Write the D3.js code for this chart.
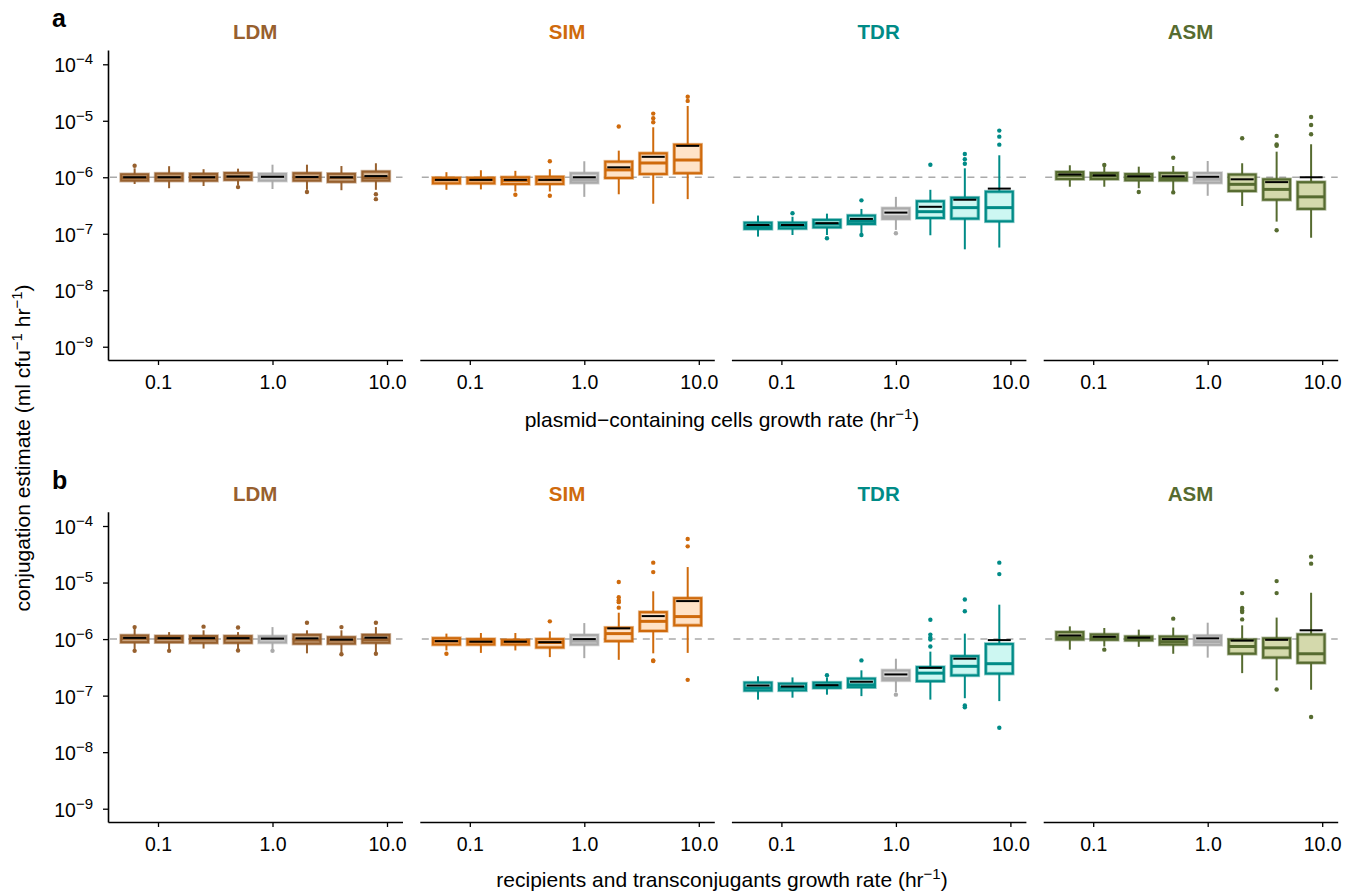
<!DOCTYPE html>
<html lang="en">

<head>
    <meta charset="UTF-8">
    <title>Conjugation estimates by growth rate</title>
    <style>
        body { margin: 0; background: #fff; }
        svg text { font-family: "Liberation Sans", Arial, Helvetica, sans-serif; }
    </style>
</head>

<body>
    <script src="https://cdn.jsdelivr.net/npm/d3@7"></script>
    <script>
        // models (panels) and growth rates (hr^-1) of the boxes
        const models = ['LDM', 'SIM', 'TDR', 'ASM'];
        const rates = [0.0625, 0.125, 0.25, 0.5, 1, 2, 4, 8];
        const xTicks = [0.1, 1, 10];
        const xTickLabels = ['0.1', '1.0', '10.0'];
        const yTickExp = [-4, -5, -6, -7, -8, -9];
        const refValue = 1e-6;

        // all values below are in units of 1e-6 ml cfu^-1 hr^-1
        // row a : plasmid-containing cells growth rate
        const aLow = [
            [0.76, 0.64, 0.70, 0.72, 0.62, 0.60, 0.59, 0.60],
            [0.60, 0.61, 0.56, 0.56, 0.45, 0.50, 0.34, 0.41],
            [0.089, 0.095, 0.095, 0.102, 0.117, 0.094, 0.053, 0.057],
            [0.68, 0.68, 0.64, 0.57, 0.47, 0.31, 0.164, 0.085]
        ];
        const aQ1 = [
            [0.87, 0.87, 0.87, 0.90, 0.87, 0.87, 0.83, 0.87],
            [0.78, 0.78, 0.76, 0.76, 0.80, 0.97, 1.14, 1.18],
            [0.122, 0.124, 0.13, 0.149, 0.183, 0.19, 0.185, 0.166],
            [0.93, 0.93, 0.885, 0.88, 0.80, 0.57, 0.40, 0.275]
        ];
        const aMed = [
            [0.98, 1.0, 1.0, 1.02, 1.02, 1.0, 0.98, 0.98],
            [0.90, 0.90, 0.88, 0.90, 0.90, 1.35, 1.79, 2.02],
            [0.134, 0.138, 0.149, 0.166, 0.20, 0.246, 0.29, 0.29],
            [1.08, 1.06, 1.0, 0.95, 0.92, 0.75, 0.61, 0.45]
        ];
        const aQ3 = [
            [1.13, 1.16, 1.15, 1.19, 1.15, 1.18, 1.15, 1.26],
            [0.98, 0.98, 1.0, 1.02, 1.18, 1.89, 2.66, 3.78],
            [0.157, 0.157, 0.176, 0.21, 0.283, 0.377, 0.435, 0.556],
            [1.24, 1.19, 1.14, 1.19, 1.19, 1.12, 0.92, 0.82]
        ];
        const aHigh = [
            [1.44, 1.57, 1.39, 1.42, 1.67, 1.67, 1.58, 1.77],
            [1.23, 1.33, 1.30, 1.39, 1.92, 2.96, 7.67, 18.3],
            [0.21, 0.20, 0.227, 0.275, 0.45, 0.60, 1.44, 2.45],
            [1.63, 1.60, 1.54, 1.58, 1.94, 1.77, 2.84, 3.84]
        ];
        const aMean = [
            [1.0, 1.0, 1.0, 1.03, 1.02, 1.01, 1.0, 1.05],
            [0.90, 0.90, 0.90, 0.90, 1.0, 1.5, 2.3, 3.6],
            [0.143, 0.143, 0.154, 0.183, 0.237, 0.30, 0.40, 0.63],
            [1.12, 1.08, 1.04, 1.04, 1.02, 0.92, 0.82, 1.0]
        ];
        const aOut = [
            [[1.6], [], [], [0.67], [], [0.55], [], [0.5, 0.41]],
            [[], [], [0.49], [1.92, 0.47], [], [7.9], [9.4, 11.1, 13.4], [22.5, 26.7]],
            [[], [0.23], [0.083], [0.39, 0.095], [0.102], [1.67], [1.74, 2.08, 2.58], [3.78, 5.24, 6.7]],
            [[], [1.65], [0.55], [2.22, 0.54], [], [4.9], [3.6, 3.8, 5.4, 0.115], [5.77, 8.4, 11.7]]
        ];

        // row b : recipients and transconjugants growth rate
        const bLow = [
            [0.63, 0.63, 0.68, 0.65, 0.62, 0.56, 0.54, 0.55],
            [0.63, 0.57, 0.63, 0.48, 0.46, 0.43, 0.56, 0.57],
            [0.085, 0.092, 0.104, 0.098, 0.115, 0.085, 0.09, 0.08],
            [0.65, 0.74, 0.73, 0.55, 0.47, 0.25, 0.186, 0.127]
        ];
        const bQ1 = [
            [0.88, 0.88, 0.86, 0.86, 0.87, 0.83, 0.83, 0.86],
            [0.80, 0.80, 0.80, 0.71, 0.80, 0.92, 1.39, 1.75],
            [0.123, 0.124, 0.137, 0.141, 0.186, 0.18, 0.228, 0.245],
            [0.98, 0.97, 0.95, 0.80, 0.79, 0.55, 0.47, 0.38]
        ];
        const bMed = [
            [1.03, 1.02, 1.0, 1.01, 1.01, 0.96, 0.96, 0.98],
            [0.92, 0.90, 0.90, 0.87, 0.92, 1.25, 2.06, 2.5],
            [0.136, 0.14, 0.15, 0.155, 0.20, 0.25, 0.33, 0.367],
            [1.06, 1.06, 1.02, 0.90, 0.90, 0.74, 0.70, 0.55]
        ];
        const bQ3 = [
            [1.16, 1.13, 1.13, 1.13, 1.12, 1.19, 1.08, 1.19],
            [1.04, 1.0, 0.97, 1.0, 1.18, 1.59, 3.0, 5.3],
            [0.17, 0.163, 0.17, 0.20, 0.28, 0.32, 0.50, 0.82],
            [1.33, 1.21, 1.11, 1.11, 1.15, 0.98, 1.03, 1.21]
        ];
        const bHigh = [
            [1.63, 1.33, 1.43, 1.33, 1.63, 1.43, 1.43, 1.63],
            [1.25, 1.28, 1.28, 1.37, 1.92, 2.93, 7.0, 18.8],
            [0.22, 0.21, 0.21, 0.28, 0.45, 0.60, 1.25, 4.06],
            [1.68, 1.57, 1.47, 1.60, 1.95, 1.75, 2.4, 6.6]
        ];
        const bMean = [
            [1.05, 1.04, 1.04, 1.04, 1.02, 1.03, 0.98, 1.06],
            [0.92, 0.90, 0.90, 0.88, 1.0, 1.55, 2.55, 4.7],
            [0.151, 0.145, 0.153, 0.176, 0.237, 0.31, 0.45, 0.96],
            [1.16, 1.10, 1.06, 1.0, 1.03, 0.94, 0.97, 1.43]
        ];
        const bOut = [
            [[1.63, 0.62], [0.62], [1.66], [1.6, 0.63], [0.62], [1.94], [1.63, 0.54], [1.94, 0.55]],
            [[0.55], [], [], [2.06], [], [3.6, 4.5, 4.8, 5.5, 10.2], [15.3, 22.5, 0.42, 0.41], [43.7, 58.8, 0.19]],
            [[], [], [0.23], [0.42], [0.104], [0.74, 0.98, 1.07, 1.2, 2.2], [3.1, 5.0, 0.067, 0.062], [14.1, 22.5, 0.027]],
            [[], [0.65], [], [2.3], [], [2.23, 3.0, 3.2, 3.54, 6.5], [6.5, 10.6, 0.128], [21.6, 28.7, 0.042]]
        ];

        const unit = 1e-6;

        const strokeCol = { LDM: '#97602e', SIM: '#cf6a0c', TDR: '#008b87', ASM: '#566b30' };
        const fillCol = { LDM: '#dcbd9b', SIM: '#ffe3c8', TDR: '#cdf7f2', ASM: '#d4d9ac' };
        const greyStroke = '#aaaaaa';
        const greyFill = '#dddddd';

        const svg_w = 1354;
        const svg_h = 894;
        const panel_w = 294.5;
        const panel_lefts = [108, 419.8, 731.4, 1043.2];
        const box_w = 27;

        const rows = [
            {
                tag: 'a', top: 50, bottom: 360, labelY: 27,
                title: 'plasmid\u2212containing cells growth rate (hr', titleY: 427,
                low: aLow, q1: aQ1, med: aMed, q3: aQ3, high: aHigh, mean: aMean, out: aOut
            },
            {
                tag: 'b', top: 511.7, bottom: 822, labelY: 489,
                title: 'recipients and transconjugants growth rate (hr', titleY: 887,
                low: bLow, q1: bQ1, med: bMed, q3: bQ3, high: bHigh, mean: bMean, out: bOut
            }
        ];

        const svg = d3.select('body')
            .append('svg')
            .attr('width', svg_w)
            .attr('height', svg_h);

        const x = d3.scaleLog()
            .domain([Math.pow(10, -1.4367), Math.pow(10, 1.1354)])
            .range([0, panel_w]);

        rows.forEach(row => {
            const y = d3.scaleLog()
                .domain([Math.pow(10, -9.235), Math.pow(10, -3.747)])
                .range([row.bottom, row.top]);

            // panel tag
            svg.append('text')
                .attr('x', 52)
                .attr('y', row.labelY)
                .attr('font-size', 25)
                .attr('font-weight', 'bold')
                .text(row.tag);

            // y axis, only on the first panel
            const yAxis = svg.append('g')
                .attr('transform', `translate(${panel_lefts[0]},0)`)
                .call(d3.axisLeft(y)
                    .tickValues(yTickExp.map(e => Math.pow(10, e)))
                    .tickSize(5)
                    .tickSizeOuter(0)
                    .tickFormat(''));
            yAxis.select('.domain').attr('stroke-width', 1.6);
            yAxis.selectAll('.tick line').attr('stroke-width', 1.3);
            yAxis.selectAll('.tick').append('text')
                .attr('x', -15)
                .attr('dy', '0.38em')
                .attr('text-anchor', 'end')
                .attr('fill', '#000')
                .attr('font-size', 19.5)
                .each(function (d) {
                    const t = d3.select(this);
                    t.append('tspan').text('10');
                    t.append('tspan')
                        .attr('dy', -8)
                        .attr('font-size', 15)
                        .text('\u2212' + Math.abs(Math.round(Math.log10(d))));
                });

            models.forEach((m, mi) => {
                const g = svg.append('g')
                    .attr('transform', `translate(${panel_lefts[mi]},0)`);

                // model title
                g.append('text')
                    .attr('x', panel_w / 2)
                    .attr('y', row.top - 11)
                    .attr('text-anchor', 'middle')
                    .attr('font-size', 20.5)
                    .attr('font-weight', 'bold')
                    .attr('fill', strokeCol[m])
                    .text(m);

                // x axis
                const xAxis = g.append('g')
                    .attr('transform', `translate(0,${row.bottom})`)
                    .call(d3.axisBottom(x)
                        .tickValues(xTicks)
                        .tickSize(5)
                        .tickSizeOuter(0)
                        .tickFormat((d, i) => xTickLabels[i]));
                xAxis.select('.domain').attr('stroke-width', 1.6);
                xAxis.selectAll('.tick line').attr('stroke-width', 1.3);
                xAxis.selectAll('.tick text')
                    .attr('font-size', 19.5)
                    .attr('y', 15)
                    .attr('fill', '#000');

                // reference line
                g.append('line')
                    .attr('x1', 2)
                    .attr('x2', panel_w)
                    .attr('y1', y(refValue))
                    .attr('y2', y(refValue))
                    .attr('stroke', '#aaaaaa')
                    .attr('stroke-width', 1.5)
                    .attr('stroke-dasharray', '7,6');

                const boxes = rates.map((r, i) => ({
                    rate: r,
                    grey: r === 1,
                    low: row.low[mi][i] * unit,
                    q1: row.q1[mi][i] * unit,
                    med: row.med[mi][i] * unit,
                    q3: row.q3[mi][i] * unit,
                    high: row.high[mi][i] * unit,
                    mean: row.mean[mi][i] * unit,
                    out: row.out[mi][i].map(v => v * unit)
                }));

                const bg = g.selectAll('g.box')
                    .data(boxes)
                    .join('g')
                    .attr('class', 'box')
                    .attr('transform', d => `translate(${x(d.rate)},0)`);

                const sc = d => d.grey ? greyStroke : strokeCol[m];

                // whiskers
                bg.append('line')
                    .attr('y1', d => y(d.q3))
                    .attr('y2', d => y(d.high))
                    .attr('stroke', sc)
                    .attr('stroke-width', 2);
                bg.append('line')
                    .attr('y1', d => y(d.q1))
                    .attr('y2', d => y(d.low))
                    .attr('stroke', sc)
                    .attr('stroke-width', 2);

                // box, with a soft halo round the outline
                bg.append('rect')
                    .attr('x', -box_w / 2)
                    .attr('width', box_w)
                    .attr('y', d => y(d.q3))
                    .attr('height', d => y(d.q1) - y(d.q3))
                    .attr('fill', d => d.grey ? greyFill : fillCol[m])
                    .attr('stroke', sc)
                    .attr('stroke-opacity', 0.45)
                    .attr('stroke-width', 3.6);
                bg.append('rect')
                    .attr('x', -box_w / 2)
                    .attr('width', box_w)
                    .attr('y', d => y(d.q3))
                    .attr('height', d => y(d.q1) - y(d.q3))
                    .attr('fill', 'none')
                    .attr('stroke', sc)
                    .attr('stroke-width', 2);

                // median
                bg.append('line')
                    .attr('x1', -box_w / 2)
                    .attr('x2', box_w / 2)
                    .attr('y1', d => y(d.med))
                    .attr('y2', d => y(d.med))
                    .attr('stroke', sc)
                    .attr('stroke-width', 3);

                // mean
                bg.append('line')
                    .attr('x1', -box_w / 2 + 2)
                    .attr('x2', box_w / 2 - 2)
                    .attr('y1', d => y(d.mean))
                    .attr('y2', d => y(d.mean))
                    .attr('stroke', '#000')
                    .attr('stroke-width', 2);

                // outliers
                bg.selectAll('circle')
                    .data(d => d.out.map(v => ({ v: v, grey: d.grey })))
                    .join('circle')
                    .attr('cx', 0)
                    .attr('cy', d => y(d.v))
                    .attr('r', 2.2)
                    .attr('fill', sc);
            });

            // x axis title with superscript
            const xt = svg.append('text')
                .attr('x', 722)
                .attr('y', row.titleY)
                .attr('text-anchor', 'middle')
                .attr('font-size', 21);
            xt.append('tspan').text(row.title);
            xt.append('tspan').attr('dy', -8).attr('font-size', 15).text('\u22121');
            xt.append('tspan').attr('dy', 8).text(')');
        });

        // shared y axis title
        const yt = svg.append('text')
            .attr('transform', 'translate(30,448) rotate(-90)')
            .attr('text-anchor', 'middle')
            .attr('font-size', 21);
        yt.append('tspan').text('conjugation estimate (ml cfu');
        yt.append('tspan').attr('dy', -8).attr('font-size', 15).text('\u22121');
        yt.append('tspan').attr('dy', 8).text(' hr');
        yt.append('tspan').attr('dy', -8).attr('font-size', 15).text('\u22121');
        yt.append('tspan').attr('dy', 8).text(')');
    </script>
</body>

</html>
